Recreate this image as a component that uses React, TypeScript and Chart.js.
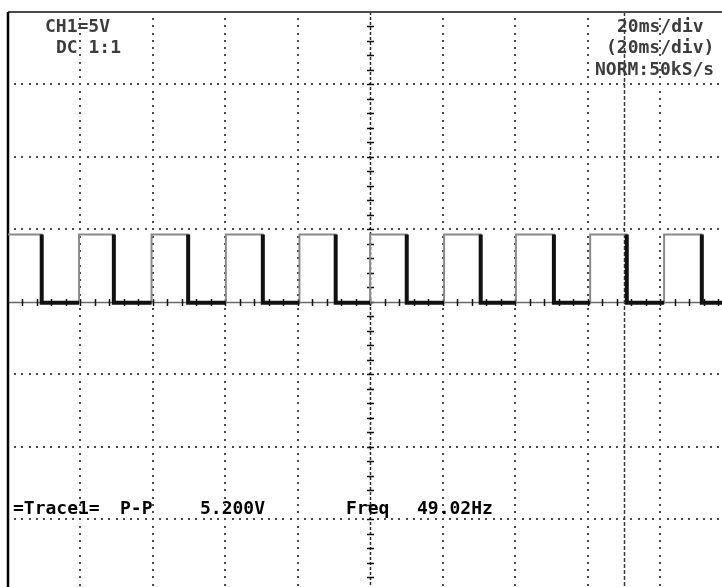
import { useEffect, useRef } from "react";
import { Chart, registerables } from "chart.js";

Chart.register(...registerables);

// Screen geometry: 20 ms/div horizontally, 5 V/div vertically.
const timeMinMs = 0;
const timeMaxMs = 196.97;
const voltMin = -19.66;
const voltMax = 20;

// Square-wave trace read from the capture (CH1).
const highLevelV = 4.65;
const lowLevelV = -0.05;
const risingEdgesMs = [19.6, 39.6, 60.1, 80.4, 99.9, 120.3, 140.1, 160.6, 181.0];
const fallingEdgesMs = [9.3, 29.2, 49.7, 70.3, 90.4, 110.0, 130.4, 150.6, 170.7, 191.4];

// Graticule divisions.
const xDivisionsMs = [20, 40, 60, 80, 120, 140, 160, 180];
const yDivisionsV = [15, 10, 5, -5, -10, -15];
const centerTimeMs = 100;
const centerVolt = 0;
const cursorTimeMs = 169.8;

// On-screen readouts.
const headerLeft = ["CH1=5V", "DC 1:1"];
const headerRight = ["20ms/div", "(20ms/div)", "NORM:50kS/s"];
const measureLabels = ["=Trace1=", "P-P", "5.200V", "Freq", "49.02Hz"];

type Pt = { x: number; y: number | null };

function buildFullTrace(): Pt[] {
  const edges = [
    ...risingEdgesMs.map((t) => ({ t, to: highLevelV, from: lowLevelV })),
    ...fallingEdgesMs.map((t) => ({ t, to: lowLevelV, from: highLevelV })),
  ].sort((a, b) => a.t - b.t);
  const pts: Pt[] = [{ x: timeMinMs, y: highLevelV }];
  let last = highLevelV;
  for (const e of edges) {
    pts.push({ x: e.t, y: e.from });
    pts.push({ x: e.t, y: e.to });
    last = e.to;
  }
  pts.push({ x: timeMaxMs, y: last });
  return pts;
}

function buildLowSegments(): Pt[] {
  const pts: Pt[] = [];
  for (const f of fallingEdgesMs) {
    const next = risingEdgesMs.find((r) => r > f);
    const end = next === undefined ? timeMaxMs : next;
    pts.push({ x: f, y: highLevelV });
    pts.push({ x: f, y: lowLevelV });
    pts.push({ x: end, y: lowLevelV });
    pts.push({ x: end, y: null });
  }
  return pts;
}

const FONT = "bold 18px 'DejaVu Sans Mono', monospace";

const graticule = {
  id: "graticule",
  beforeDatasetsDraw(chart: any) {
    const { ctx, chartArea: a, scales } = chart;
    const x = scales.x;
    const y = scales.y;
    ctx.save();

    // dotted division lines (dot every 1/10 division)
    ctx.fillStyle = "#4a4a4a";
    for (const t of xDivisionsMs) {
      const px = Math.round(x.getPixelForValue(t));
      for (let v = voltMax; v >= voltMin; v -= 0.5) {
        const py = Math.round(y.getPixelForValue(v));
        ctx.fillRect(px - 1, py - 1, 2, 2);
      }
    }
    for (const v of yDivisionsV) {
      const py = Math.round(y.getPixelForValue(v));
      for (let t = timeMinMs; t <= timeMaxMs; t += 2) {
        const px = Math.round(x.getPixelForValue(t));
        ctx.fillRect(px - 1, py - 1, 2, 2);
      }
    }

    // cursor line
    const cx = Math.round(x.getPixelForValue(cursorTimeMs)) + 0.5;
    ctx.strokeStyle = "#3a3a3a";
    ctx.lineWidth = 1.5;
    ctx.setLineDash([4, 2]);
    ctx.beginPath();
    ctx.moveTo(cx, a.top);
    ctx.lineTo(cx, a.bottom);
    ctx.stroke();

    // center vertical axis with minor ticks
    const ax = Math.round(x.getPixelForValue(centerTimeMs)) + 0.5;
    ctx.strokeStyle = "#2a2a2a";
    ctx.setLineDash([3, 2]);
    ctx.beginPath();
    ctx.moveTo(ax, a.top);
    ctx.lineTo(ax, a.bottom);
    ctx.stroke();
    ctx.setLineDash([]);
    ctx.strokeStyle = "#111";
    ctx.lineWidth = 1.5;
    for (let v = voltMax - 1; v > voltMin; v -= 1) {
      const py = Math.round(y.getPixelForValue(v)) + 0.5;
      ctx.beginPath();
      ctx.moveTo(ax - 3.5, py);
      ctx.lineTo(ax + 3.5, py);
      ctx.stroke();
    }

    // center horizontal axis with minor ticks
    const ay = Math.round(y.getPixelForValue(centerVolt)) + 0.5;
    ctx.strokeStyle = "#6a6a6a";
    ctx.lineWidth = 1.5;
    ctx.beginPath();
    ctx.moveTo(a.left, ay);
    ctx.lineTo(a.right, ay);
    ctx.stroke();
    ctx.strokeStyle = "#111";
    for (let t = timeMinMs + 4; t < timeMaxMs; t += 4) {
      const px = Math.round(x.getPixelForValue(t)) + 0.5;
      ctx.beginPath();
      ctx.moveTo(px, ay - 3.5);
      ctx.lineTo(px, ay + 3.5);
      ctx.stroke();
    }

    // screen frame: top edge and left edge
    ctx.strokeStyle = "#4a4a4a";
    ctx.lineWidth = 2;
    ctx.beginPath();
    ctx.moveTo(a.left, a.top);
    ctx.lineTo(a.right, a.top);
    ctx.stroke();
    ctx.strokeStyle = "#000";
    ctx.lineWidth = 2.5;
    ctx.beginPath();
    ctx.moveTo(a.left, a.top);
    ctx.lineTo(a.left, a.bottom);
    ctx.stroke();

    ctx.restore();
  },
  afterDraw(chart: any) {
    const { ctx } = chart;
    ctx.save();
    ctx.font = FONT;
    ctx.textBaseline = "alphabetic";
    ctx.textAlign = "left";

    ctx.fillStyle = "#3c3c3c";
    ctx.fillText(headerLeft[0], 45, 32);
    ctx.fillText(headerLeft[1], 56, 53);
    ctx.fillText(headerRight[0], 617, 32);
    ctx.fillText(headerRight[1], 606, 53);
    ctx.fillText(headerRight[2], 595, 75);

    ctx.fillStyle = "#000";
    ctx.fillText(measureLabels[0], 13, 514);
    ctx.fillText(measureLabels[1], 120, 514);
    ctx.fillText(measureLabels[2], 200, 514);
    ctx.fillText(measureLabels[3], 346, 514);
    ctx.fillText(measureLabels[4], 417, 514);
    ctx.restore();
  },
};

export default function App() {
  const canvasRef = useRef<HTMLCanvasElement | null>(null);

  useEffect(() => {
    const canvas = canvasRef.current;
    if (!canvas) return;
    const chart = new Chart(canvas, {
      type: "line",
      data: {
        datasets: [
          {
            label: "low",
            data: buildLowSegments() as any,
            borderColor: "#111",
            borderWidth: 4,
            pointRadius: 0,
            spanGaps: false,
            tension: 0,
            borderCapStyle: "butt",
            borderJoinStyle: "miter",
            order: 0,
          },
          {
            label: "CH1",
            data: buildFullTrace() as any,
            borderColor: "#8a8a8a",
            borderWidth: 2,
            pointRadius: 0,
            tension: 0,
            borderJoinStyle: "miter",
            order: 1,
          },
        ],
      },
      options: {
        animation: false,
        responsive: false,
        devicePixelRatio: 1,
        parsing: false as any,
        normalized: true,
        layout: { padding: { left: 8, top: 12, right: 0, bottom: 0 } },
        plugins: {
          legend: { display: false },
          tooltip: { enabled: false },
        },
        scales: {
          x: { type: "linear", min: timeMinMs, max: timeMaxMs, display: false },
          y: { type: "linear", min: voltMin, max: voltMax, display: false },
        },
      },
      plugins: [graticule],
    });
    return () => chart.destroy();
  }, []);

  return (
    <div
      style={{
        position: "fixed",
        left: 0,
        top: 0,
        width: 722,
        height: 587,
        background: "#fff",
        overflow: "hidden",
      }}
    >
      <canvas ref={canvasRef} width={722} height={587} style={{ display: "block" }} />
    </div>
  );
}
